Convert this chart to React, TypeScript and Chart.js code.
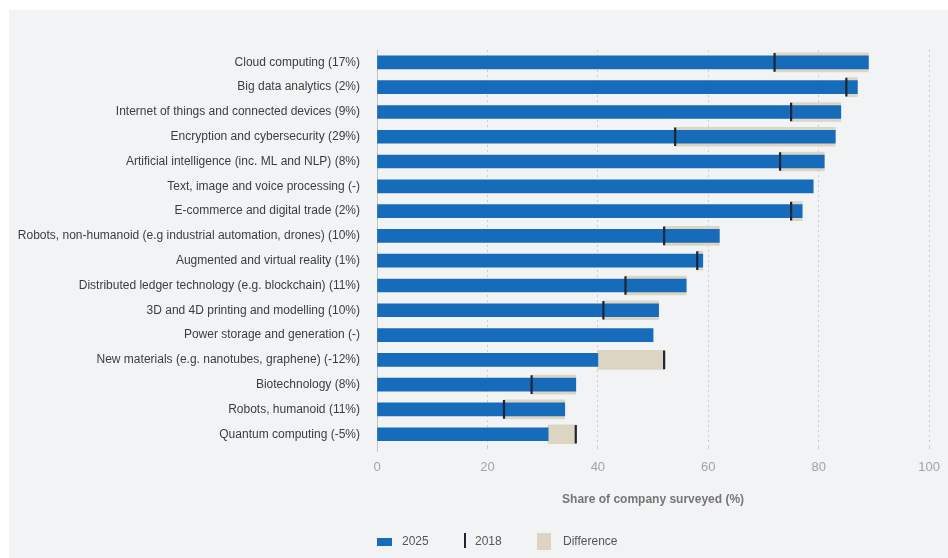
import React, { useEffect, useRef } from "react";
import { Chart, registerables } from "chart.js";

Chart.register(...registerables);

const categories = [
  "Cloud computing (17%)",
  "Big data analytics (2%)",
  "Internet of things and connected devices (9%)",
  "Encryption and cybersecurity (29%)",
  "Artificial intelligence (inc. ML and NLP) (8%)",
  "Text, image and voice processing (-)",
  "E-commerce and digital trade (2%)",
  "Robots, non-humanoid (e.g industrial automation, drones) (10%)",
  "Augmented and virtual reality (1%)",
  "Distributed ledger technology (e.g. blockchain) (11%)",
  "3D and 4D printing and modelling (10%)",
  "Power storage and generation (-)",
  "New materials (e.g. nanotubes, graphene) (-12%)",
  "Biotechnology (8%)",
  "Robots, humanoid (11%)",
  "Quantum computing (-5%)",
];

const share2025 = [89, 87, 84, 83, 81, 79, 77, 62, 59, 56, 51, 50, 40, 36, 34, 31];
const share2018: (number | null)[] = [72, 85, 75, 54, 73, null, 75, 52, 58, 45, 41, null, 52, 28, 23, 36];

const xTicks = [0, 20, 40, 60, 80, 100];

const BLUE = "#176bbb";
const BEIGE = "#dcd5c1";
const MARK = "#1c2633";

export default function App() {
  const ref = useRef<HTMLCanvasElement | null>(null);

  useEffect(() => {
    const canvas = ref.current;
    if (!canvas) return;
    Chart.defaults.font.family = "'Liberation Sans', Arial, Helvetica, sans-serif";

    const markerData = share2018.map((v) => (v == null ? null : [v - 0.14, v + 0.14]));
    const diffData = share2025.map((v, i) => {
      const o = share2018[i];
      return o == null ? null : [Math.min(v, o), Math.max(v, o)];
    });

    const chart = new Chart(canvas, {
      type: "bar",
      data: {
        labels: categories,
        datasets: [
          {
            label: "2018",
            data: markerData as any,
            backgroundColor: MARK,
            barThickness: 18,
            grouped: false,
          },
          {
            label: "2025",
            data: share2025,
            backgroundColor: BLUE,
            barThickness: 13,
            grouped: false,
          },
          {
            label: "Difference",
            data: diffData as any,
            backgroundColor: BEIGE,
            barThickness: 19,
            grouped: false,
          },
        ],
      },
      options: {
        indexAxis: "y",
        animation: false,
        responsive: false,
        maintainAspectRatio: false,
        layout: { padding: { left: 0, right: 17.5, top: 50, bottom: 40 } },
        plugins: {
          legend: { display: false },
          tooltip: { enabled: false },
        },
        scales: {
          x: {
            type: "linear",
            min: 0,
            max: 100,
            afterBuildTicks: (s: any) => {
              s.ticks = xTicks.map((v) => ({ value: v }));
            },
            afterFit: (s: any) => {
              s.height = 71.4;
            },
            border: {
              display: false,
              dash: (ctx: any) => (ctx.tick && ctx.tick.value === 0 ? [] : [2, 3]),
            },
            grid: {
              color: (ctx: any) => (ctx.tick && ctx.tick.value === 0 ? "#c4c4c4" : "#cdcdcd"),
              tickColor: (ctx: any) => (ctx.tick && ctx.tick.value === 0 ? "#c4c4c4" : "#cdcdcd"),
              tickBorderDash: (ctx: any) => (ctx.tick && ctx.tick.value === 0 ? [] : [2, 3]),
              tickLength: 5,
              lineWidth: 1,
            },
            ticks: {
              color: "#a3a3a3",
              font: { size: 13 },
              padding: 8,
            },
            title: {
              display: true,
              text: "Share of company surveyed (%)",
              color: "#767676",
              font: { size: 12, weight: "bold" },
              padding: { top: 0, bottom: 11 },
            },
          },
          y: {
            afterFit: (s: any) => {
              s.width = 377;
            },
            border: { display: false },
            grid: { display: false, drawTicks: false },
            ticks: {
              color: "#3d3d3d",
              font: { size: 12 },
              padding: 17,
              autoSkip: false,
            },
          },
        },
      },
    } as any);

    return () => chart.destroy();
  }, []);

  const legendText: React.CSSProperties = {
    position: "absolute",
    top: 533,
    fontFamily: "'Liberation Sans', Arial, sans-serif",
    fontSize: 12,
    lineHeight: "16px",
    color: "#555",
    whiteSpace: "nowrap",
  };

  return (
    <div style={{ position: "fixed", left: 0, top: 0, width: 948, height: 558, background: "#ffffff", overflow: "hidden" }}>
      <div style={{ position: "absolute", left: 9, top: 10, width: 939, height: 548, background: "#f2f3f5" }} />
      <canvas ref={ref} width={948} height={558} style={{ position: "absolute", left: 0, top: 0, width: 948, height: 558 }} />
      <div style={{ position: "absolute", left: 377, top: 538, width: 15, height: 8, background: BLUE }} />
      <span style={{ ...legendText, left: 402 }}>2025</span>
      <div style={{ position: "absolute", left: 464, top: 533, width: 2, height: 15, background: MARK }} />
      <span style={{ ...legendText, left: 475 }}>2018</span>
      <div style={{ position: "absolute", left: 537, top: 533, width: 14, height: 17, background: BEIGE }} />
      <span style={{ ...legendText, left: 563 }}>Difference</span>
    </div>
  );
}
